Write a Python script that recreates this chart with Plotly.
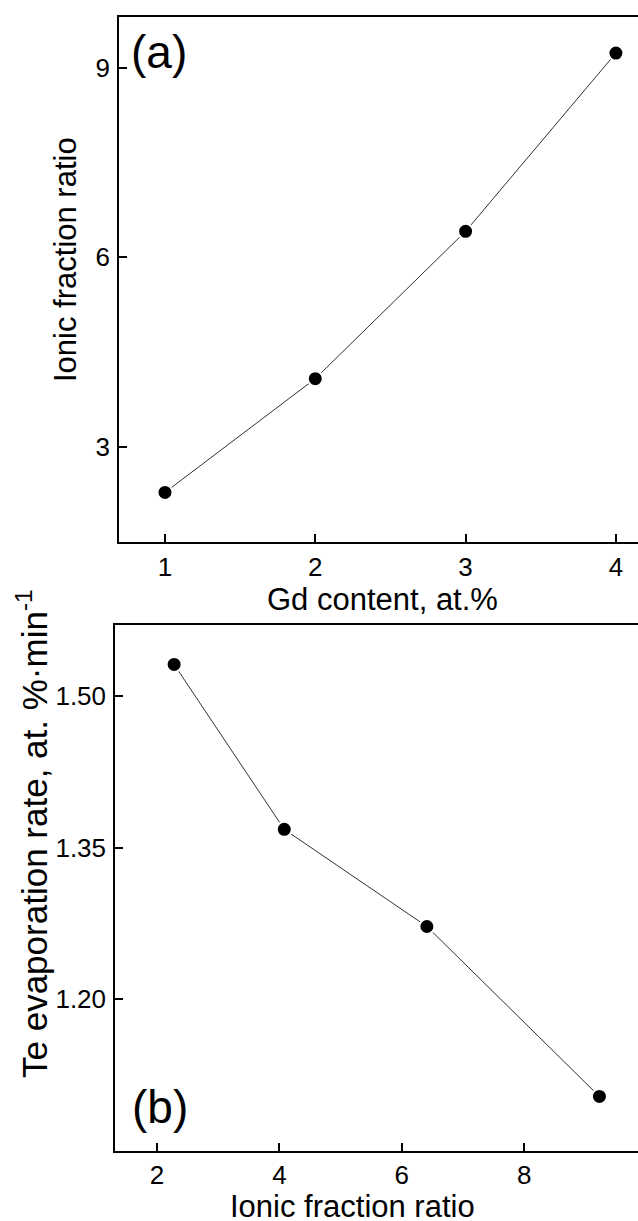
import plotly.graph_objects as go

# Data
gd_content = [1, 2, 3, 4]
ionic_ratio = [2.28, 4.08, 6.41, 9.23]
te_evap_rate = [1.531, 1.368, 1.272, 1.104]

top_xticks = [1, 2, 3, 4]
top_yticks = [3, 6, 9]
bot_xticks = [2, 4, 6, 8]
bot_yticks = [1.20, 1.35, 1.50]
bot_yticklabels = ["1.20", "1.35", "1.50"]

W, H = 638, 1221
FONT = "Liberation Sans, Arial, sans-serif"

def px_x(v):
    return v / W

def px_y(v):
    return (H - v) / H

fig = go.Figure()

marker = dict(size=15, color="black", line=dict(color="white", width=2))
line = dict(color="#303030", width=1)

fig.add_trace(go.Scatter(x=gd_content, y=ionic_ratio, mode="lines+markers",
                         marker=marker, line=line, xaxis="x", yaxis="y",
                         showlegend=False, cliponaxis=False))
fig.add_trace(go.Scatter(x=ionic_ratio, y=te_evap_rate, mode="lines+markers",
                         marker=marker, line=line, xaxis="x2", yaxis="y2",
                         showlegend=False, cliponaxis=False))

axis_common = dict(showline=True, linecolor="black", linewidth=1.5,
                   ticks="inside", ticklen=8, tickwidth=1.5, tickcolor="black",
                   showgrid=False, zeroline=False,
                   tickfont=dict(family=FONT, size=26, color="black"))

fig.update_layout(
    width=W, height=H,
    margin=dict(l=0, r=0, t=0, b=0),
    paper_bgcolor="white", plot_bgcolor="white",
    font=dict(family=FONT, color="black"),
    xaxis=dict(domain=[px_x(119), 1], range=[0.694, 4.147], tickvals=top_xticks,
               mirror=True, anchor="y", ticklabelstandoff=1, **axis_common),
    yaxis=dict(domain=[px_y(542), px_y(17)], range=[1.496, 9.80], tickvals=top_yticks,
               anchor="x", ticklabelstandoff=2, **axis_common),
    xaxis2=dict(domain=[px_x(115), 1], range=[1.314, 9.86], tickvals=bot_xticks,
                mirror=True, anchor="y2", ticklabelstandoff=1, **axis_common),
    yaxis2=dict(domain=[px_y(1150.5), px_y(625)], range=[1.0506, 1.570],
                tickvals=bot_yticks, ticktext=bot_yticklabels,
                anchor="x2", ticklabelstandoff=2, **axis_common),
)

annotations = [
    dict(text="Ionic fraction ratio", x=px_x(65), y=px_y(260), textangle=-90,
         font=dict(size=31)),
    dict(text="Gd content, at.%", x=px_x(382), y=px_y(599), font=dict(size=31)),
    dict(text="Te evaporation rate, at. %·min<sup>-1</sup>", x=px_x(32), y=px_y(834),
         textangle=-90, font=dict(size=35)),
    dict(text="Ionic fraction ratio", x=px_x(352), y=px_y(1206), font=dict(size=31)),
    dict(text="(a)", x=px_x(159), y=px_y(52), font=dict(size=46)),
    dict(text="(b)", x=px_x(160), y=px_y(1107), font=dict(size=46)),
]
for a in annotations:
    a.update(xref="paper", yref="paper", xanchor="center", yanchor="middle",
             showarrow=False)
    a["font"].update(family=FONT, color="black")
fig.update_layout(annotations=annotations)

fig.write_html("out.html")
